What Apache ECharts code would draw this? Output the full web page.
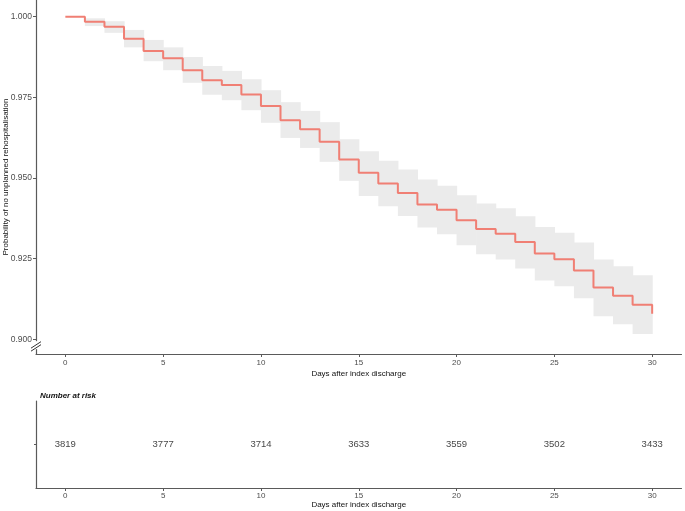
<!DOCTYPE html>
<html>
<head>
<meta charset="utf-8">
<script src="https://cdn.jsdelivr.net/npm/echarts@6/dist/echarts.min.js"></script>
<style>
  html, body { margin: 0; padding: 0; background: #fff; }
  #chart { width: 685px; height: 511px; }
</style>
</head>
<body>
<div id="chart"></div>
<script>
// survival estimate at each day (value holds from that day on)
const days = [0, 1, 2, 3, 4, 5, 6, 7, 8, 9, 10, 11, 12, 13, 14, 15, 16, 17, 18, 19, 20, 21, 22, 23, 24, 25, 26, 27, 28, 29, 30];
const survival = [1.0, 0.9984, 0.9969, 0.9932, 0.9894, 0.9871, 0.9834, 0.9803, 0.9788, 0.9759, 0.9723,
  0.9679, 0.9651, 0.9612, 0.9557, 0.9516, 0.9483, 0.9453, 0.9418, 0.9401, 0.9369,
  0.9342, 0.9327, 0.9301, 0.9266, 0.9248, 0.9213, 0.9160, 0.9135, 0.9107, 0.9079];

// confidence band per day interval [d, d+1)
const bandUpper = [1.0, 0.9995, 0.9986, 0.9959, 0.9928, 0.9905, 0.9875, 0.9847, 0.9832, 0.9806,
  0.9772, 0.9735, 0.9708, 0.9673, 0.9620, 0.9583, 0.9553, 0.9526, 0.9495, 0.9476,
  0.9446, 0.9421, 0.9406, 0.9381, 0.9348, 0.9330, 0.9300, 0.9247, 0.9226, 0.9198];
const bandLower = [1.0, 0.9971, 0.9950, 0.9905, 0.9862, 0.9834, 0.9795, 0.9758, 0.9741, 0.9710,
  0.9671, 0.9624, 0.9593, 0.9550, 0.9491, 0.9444, 0.9412, 0.9382, 0.9346, 0.9325,
  0.9291, 0.9263, 0.9247, 0.9219, 0.9182, 0.9164, 0.9127, 0.9071, 0.9046, 0.9016];

// number at risk table
const riskDays = [0, 5, 10, 15, 20, 25, 30];
const riskCounts = [3819, 3777, 3714, 3633, 3559, 3502, 3433];

const xTicks = [0, 5, 10, 15, 20, 25, 30];
const yTicks = [0.9, 0.925, 0.95, 0.975, 1.0];

const FONT = "'Liberation Sans', Arial, sans-serif";
const AXIS_COLOR = "#5a5a5a";

const chart = echarts.init(document.getElementById("chart"), null, { renderer: "canvas" });

const bandData = bandUpper.map((u, i) => [days[i], days[i + 1], bandLower[i], u]);

const xAxisCommon = {
  type: "value",
  min: -1.5,
  max: 31.5,
  splitLine: { show: false },
  axisLine: { show: true, onZero: false, lineStyle: { color: AXIS_COLOR, width: 1.2 } },
  axisTick: { customValues: xTicks, length: 3, lineStyle: { color: AXIS_COLOR } },
  name: "Days after index discharge",
  nameLocation: "middle",
  nameMoveOverlap: false,
  nameTextStyle: { fontFamily: FONT, fontSize: 8, color: "#111" },
};

chart.setOption({
  animation: false,
  backgroundColor: "#fff",
  textStyle: { fontFamily: FONT },
  title: {
    text: "Number at risk",
    left: 35,
    top: 387,
    textStyle: { fontFamily: FONT, fontSize: 8, fontWeight: "bold", fontStyle: "italic", color: "#111" },
  },
  grid: [
    { left: 36, right: 3.5, top: 0, height: 354, containLabel: false, outerBoundsMode: "none" },
    { left: 36, right: 3.5, top: 401, height: 87, containLabel: false, outerBoundsMode: "none" },
  ],
  xAxis: [
    Object.assign({}, xAxisCommon, {
      gridIndex: 0,
      nameGap: 16,
      axisLabel: { customValues: xTicks, margin: 5, fontFamily: FONT, fontSize: 8, color: "#4d4d4d" },
    }),
    Object.assign({}, xAxisCommon, {
      gridIndex: 1,
      nameGap: 13,
      axisLabel: { customValues: xTicks, margin: 3.5, fontFamily: FONT, fontSize: 8, color: "#4d4d4d" },
    }),
  ],
  yAxis: [
    {
      type: "value",
      gridIndex: 0,
      min: 0.8954,
      max: 1.00518,
      splitLine: { show: false },
      axisLine: { show: true, onZero: false, lineStyle: { color: AXIS_COLOR, width: 1.2 } },
      axisTick: { customValues: yTicks, length: 3, lineStyle: { color: AXIS_COLOR } },
      axisLabel: {
        customValues: yTicks,
        margin: 4,
        fontFamily: FONT,
        fontSize: 8.5,
        color: "#4d4d4d",
        formatter: (v) => v.toFixed(3),
      },
      name: "Probability of no unplanned rehospitalisation",
      nameLocation: "middle",
      nameGap: 26,
      nameMoveOverlap: false,
      nameTextStyle: { fontFamily: FONT, fontSize: 8, color: "#111" },
    },
    {
      type: "value",
      gridIndex: 1,
      min: 0,
      max: 2,
      splitLine: { show: false },
      axisLine: { show: true, onZero: false, lineStyle: { color: AXIS_COLOR, width: 1.2 } },
      axisTick: { customValues: [1], length: 2, lineStyle: { color: AXIS_COLOR } },
      axisLabel: { show: false },
    },
  ],
  series: [
    {
      name: "band",
      type: "custom",
      xAxisIndex: 0,
      yAxisIndex: 0,
      silent: true,
      z: 1,
      data: bandData,
      encode: { x: [0, 1], y: [2, 3] },
      renderItem(params, api) {
        const p0 = api.coord([api.value(0), api.value(3)]);
        const p1 = api.coord([api.value(1), api.value(2)]);
        return {
          type: "rect",
          shape: { x: p0[0], y: p0[1], width: p1[0] - p0[0] + 0.6, height: p1[1] - p0[1] },
          style: { fill: "#ebebeb" },
        };
      },
    },
    {
      name: "survival",
      type: "line",
      xAxisIndex: 0,
      yAxisIndex: 0,
      step: "end",
      symbol: "none",
      z: 3,
      data: days.map((d, i) => [d, survival[i]]),
      lineStyle: { color: "#f07f74", width: 2 },
    },
    {
      name: "risk",
      type: "scatter",
      xAxisIndex: 1,
      yAxisIndex: 1,
      symbolSize: 1,
      itemStyle: { color: "rgba(0,0,0,0)" },
      data: riskDays.map((d, i) => [d, 1, riskCounts[i]]),
      label: {
        show: true,
        position: "inside",
        formatter: (p) => String(p.value[2]),
        fontFamily: FONT,
        fontSize: 9.5,
        color: "#111",
      },
    },
  ],
});

// axis break marks on the survival y axis, just below 0.900
const axisX = chart.convertToPixel({ xAxisIndex: 0 }, -1.5);
const yb = chart.convertToPixel({ yAxisIndex: 0 }, 0.9);
chart.setOption({
  graphic: [
    {
      type: "rect",
      z: 100,
      shape: { x: axisX - 3, y: yb + 2, width: 6, height: 8 },
      style: { fill: "#fff" },
    },
    {
      type: "line",
      z: 101,
      shape: { x1: axisX - 5, y1: yb + 9, x2: axisX + 5, y2: yb + 2.5 },
      style: { stroke: "#333", lineWidth: 1 },
    },
    {
      type: "line",
      z: 101,
      shape: { x1: axisX - 5, y1: yb + 12, x2: axisX + 5, y2: yb + 5.5 },
      style: { stroke: "#333", lineWidth: 1 },
    },
  ],
});
</script>
</body>
</html>
